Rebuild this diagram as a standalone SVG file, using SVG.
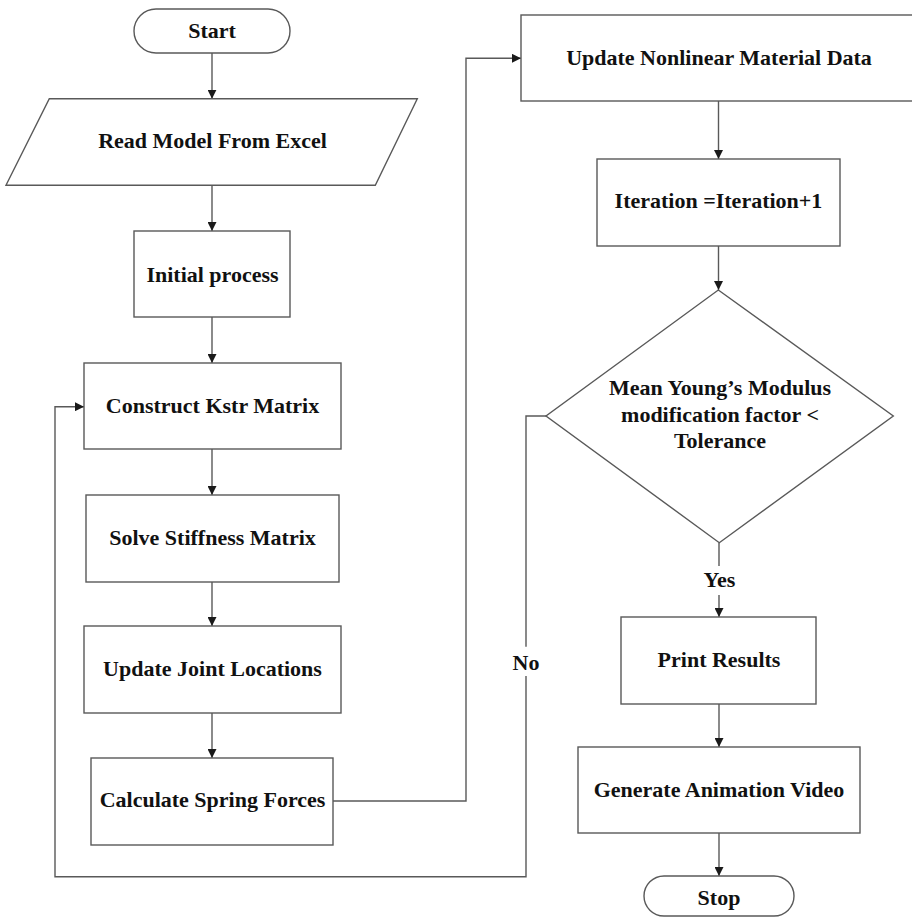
<svg xmlns="http://www.w3.org/2000/svg" width="912" height="917" viewBox="0 0 912 917">
<defs>
<style>
.shape{fill:#fff;stroke:#595959;stroke-width:1.4}
.lbl{font-family:"Liberation Serif","Times New Roman",serif;font-weight:bold;font-size:22px;fill:#111;text-anchor:middle}
.conn{fill:none;stroke:#595959;stroke-width:1.4}
</style>
<marker id="arr" markerUnits="userSpaceOnUse" markerWidth="9" markerHeight="9" refX="9" refY="4.5" orient="auto">
<path d="M0,0 L9,4.5 L0,9 z" fill="#1a1a1a"/>
</marker>
</defs>
<rect width="912" height="917" fill="#fff"/>
<g id="connectors">
<path class="conn" d="M212,53 V98.7" marker-end="url(#arr)"/>
<path class="conn" d="M212,185.3 V231" marker-end="url(#arr)"/>
<path class="conn" d="M212,317 V363" marker-end="url(#arr)"/>
<path class="conn" d="M212,449 V495" marker-end="url(#arr)"/>
<path class="conn" d="M212,582 V626" marker-end="url(#arr)"/>
<path class="conn" d="M212,713 V758" marker-end="url(#arr)"/>
<path class="conn" d="M333,801 H466 V58.3 H521" marker-end="url(#arr)"/>
<path class="conn" d="M718.5,101 V159" marker-end="url(#arr)"/>
<path class="conn" d="M718.5,246 V290" marker-end="url(#arr)"/>
<path class="conn" d="M719,542.7 V566 M719,595 V617" marker-end="url(#arr)"/>
<path class="conn" d="M546,416 H526 V646.7 M526,676 V876.7 H55 V406.7 H84" marker-end="url(#arr)"/>
<path class="conn" d="M719,704 V747" marker-end="url(#arr)"/>
<path class="conn" d="M719,833 V876" marker-end="url(#arr)"/>
<text class="lbl" x="719.5" y="587">Yes</text>
<text class="lbl" x="526" y="669.5">No</text>
</g>
<g id="start">
<rect class="shape" x="134" y="9" width="156" height="44" rx="22"/>
<text class="lbl" x="212" y="38">Start</text>
</g>
<g id="read">
<polygon class="shape" points="49.3,98.7 417.3,98.7 375.3,185.3 6,185.3"/>
<text class="lbl" x="212.5" y="148">Read Model From Excel</text>
</g>
<g id="init">
<rect class="shape" x="134" y="231" width="156" height="86"/>
<text class="lbl" x="212.5" y="282">Initial process</text>
</g>
<g id="construct">
<rect class="shape" x="84" y="363" width="257" height="86"/>
<text class="lbl" x="212.5" y="413">Construct Kstr Matrix</text>
</g>
<g id="solve">
<rect class="shape" x="86" y="495" width="253" height="87"/>
<text class="lbl" x="212.5" y="545">Solve Stiffness Matrix</text>
</g>
<g id="joint">
<rect class="shape" x="84" y="626" width="257" height="87"/>
<text class="lbl" x="212.5" y="676">Update Joint Locations</text>
</g>
<g id="calc">
<rect class="shape" x="91" y="758" width="242" height="87"/>
<text class="lbl" x="212.5" y="807">Calculate Spring Forces</text>
</g>
<g id="nonlinear">
<rect class="shape" x="521" y="15" width="400" height="86"/>
<text class="lbl" x="719" y="65">Update Nonlinear Material Data</text>
</g>
<g id="iteration">
<rect class="shape" x="597" y="159" width="243" height="87"/>
<text class="lbl" x="718.5" y="208">Iteration =Iteration+1</text>
</g>
<g id="decision">
<polygon class="shape" points="718.3,290 893.3,416 719.3,542.7 546,416"/>
<text class="lbl" x="720" y="395">Mean Young’s Modulus</text>
<text class="lbl" x="720" y="421.7">modification factor &lt;</text>
<text class="lbl" x="720" y="448.3">Tolerance</text>
</g>
<g id="print">
<rect class="shape" x="621" y="617" width="195" height="87"/>
<text class="lbl" x="719" y="667">Print Results</text>
</g>
<g id="generate">
<rect class="shape" x="578" y="747" width="282" height="86"/>
<text class="lbl" x="719" y="797">Generate Animation Video</text>
</g>
<g id="stop">
<rect class="shape" x="644" y="876" width="150" height="40" rx="20"/>
<text class="lbl" x="719" y="905">Stop</text>
</g>
</svg>
